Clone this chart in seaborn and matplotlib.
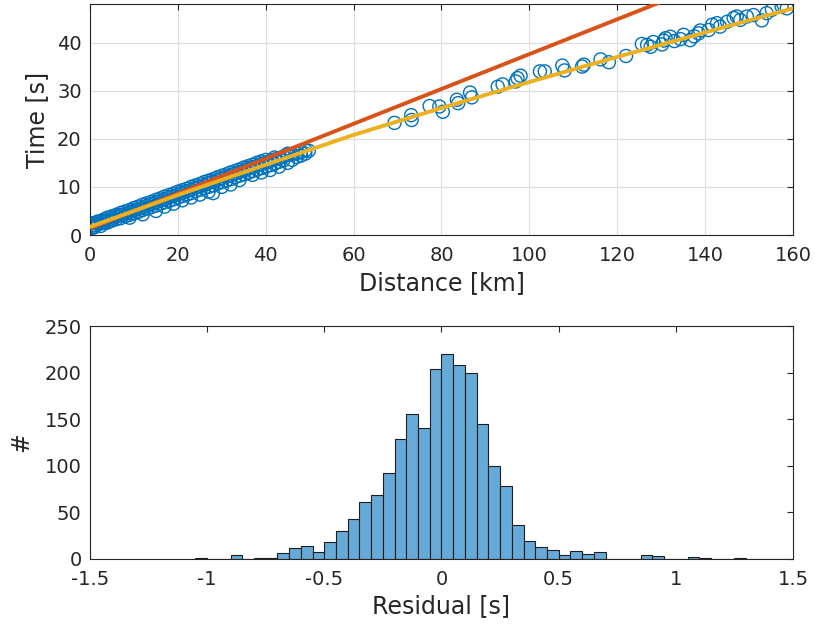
import numpy as np
import pandas as pd
import matplotlib
matplotlib.use('Agg')
import matplotlib.pyplot as plt
import seaborn as sns

# ---- travel time picks (km, s) ----
near_dist = [0.3, 0.3, 0.3, 1, 1, 1, 1.8, 1.8, 2.5, 2.5, 2.5, 3.3, 3.3, 3.3,
             4, 4, 4, 5, 5, 5, 6, 6, 6, 7, 7, 7, 8, 8, 8, 9, 9, 9, 9,
             10, 10, 10, 11, 11, 11, 12, 12, 12, 12, 13, 13, 13, 14, 14, 14,
             15, 15, 15, 15, 16, 16, 16, 17, 17, 17, 17, 18, 18, 18,
             19, 19, 19, 19, 20, 20, 20, 21, 21, 21, 21, 22, 22, 22,
             23, 23, 23, 23, 24, 24, 24, 25, 25, 25, 25, 26, 26, 26,
             27, 27, 27, 27, 28, 28, 28, 28, 29, 29, 29, 30, 30, 30, 30,
             31, 31, 31, 32, 32, 32, 32, 33, 33, 33, 34, 34, 34, 34,
             35, 35, 35, 36, 36, 36, 37, 37, 37, 37, 38, 38, 38,
             39, 39, 39, 39, 40, 40, 40, 41, 41, 41, 42, 42, 42, 43, 43, 43,
             44, 44, 45, 45, 45, 46, 46, 47, 47, 48, 48, 49, 49, 49.8]
near_time = [1.9, 1.4, 2.4, 2.0, 2.5, 1.6, 2.3, 2.8, 2.4, 2.9, 1.9, 2.9, 2.5, 3.3,
             3.1, 3.6, 2.6, 3.4, 3.0, 3.9, 3.8, 3.3, 4.2, 4.1, 4.6, 3.5, 4.4, 4.9, 3.9,
             4.7, 5.2, 4.2, 3.6, 5.1, 5.6, 4.5, 5.4, 5.9, 4.8, 5.7, 6.3, 5.2, 4.3,
             6.1, 6.6, 5.5, 6.4, 6.9, 5.8, 6.8, 7.3, 6.1, 5.0, 7.1, 7.6, 6.5,
             7.4, 8.0, 6.8, 5.9, 7.8, 8.3, 7.1, 8.1, 8.6, 7.4, 6.5, 8.4, 9.0, 7.8,
             8.8, 9.3, 8.1, 7.2, 9.1, 9.6, 8.4, 9.4, 10.0, 8.7, 7.8, 9.8, 10.3, 9.1,
             10.1, 10.6, 9.4, 8.4, 10.4, 11.0, 9.7, 10.8, 11.3, 10.0, 9.0,
             11.1, 11.6, 10.3, 8.7, 11.4, 12.0, 10.7, 11.8, 12.3, 11.0, 10.0,
             12.1, 12.6, 11.3, 12.4, 13.0, 11.6, 10.5, 12.8, 13.3, 12.0,
             13.1, 13.6, 12.3, 11.4, 13.4, 14.0, 12.6, 13.8, 14.3, 12.9,
             14.1, 14.6, 13.3, 12.5, 14.4, 15.0, 13.6, 14.8, 15.3, 13.9, 13.0,
             15.0, 15.6, 14.2, 15.4, 14.5, 13.5, 15.7, 16.1, 14.8, 15.9, 14.2, 15.2,
             16.3, 15.5, 16.6, 15.0, 16.9, 16.8, 15.6, 17.0, 16.2, 17.2, 16.5,
             17.6, 16.9, 17.5]

far_dist = [69.3, 73.1, 73.2, 77.3, 79.5, 80.3, 83.5, 83.8, 86.5, 86.9,
            92.8, 93.9, 96.9, 97.3, 98.0, 102.4, 103.5, 107.5, 108.0, 112.0,
            112.4, 116.2, 118.1, 122.0, 125.6, 126.8, 127.6, 128.2, 130.2, 130.6,
            131.0, 132.1, 133.0, 134.4, 135.1, 136.6, 137.5, 138.5, 138.9, 140.8,
            141.6, 142.7, 143.4, 145.0, 146.5, 147.2, 148.0, 149.5, 151.0, 152.9,
            154.0, 155.2, 157.4, 158.6]
far_time = [23.3, 24.9, 23.9, 26.8, 26.7, 25.6, 28.1, 27.4, 29.6, 28.6,
            30.8, 31.3, 31.9, 32.6, 33.1, 34.0, 34.0, 35.2, 34.2, 35.0,
            35.4, 36.5, 35.9, 37.2, 39.7, 39.5, 39.1, 40.1, 39.6, 40.4,
            40.9, 41.2, 40.3, 40.7, 41.6, 40.5, 41.3, 41.9, 42.5, 42.6,
            43.7, 44.0, 43.3, 44.3, 45.1, 45.4, 44.7, 45.4, 45.7, 44.6,
            46.1, 46.8, 47.5, 47.1]

# straight-line fit (near picks) and fit through all picks
red_dist = [0.3, 160]
red_time = [1.5, 59.3]
yel_dist = [0.3, 20, 40, 60, 80, 100, 120, 140, 160]
yel_time = [1.8, 8.3, 14.6, 20.8, 26.4, 31.8, 37.0, 42.1, 47.1]

# ---- residual histogram ----
bin_edges = [round(-1.05 + 0.05 * i, 3) for i in range(52)]
counts = [1, 0, 0, 4, 0, 1, 1, 6, 11, 13, 7, 18, 30, 43, 61, 68, 92, 129, 155, 140,
          204, 220, 208, 199, 145, 99, 78, 36, 19, 12, 9, 4, 8, 5, 7, 0, 0, 0, 4, 3,
          0, 0, 2, 1, 0, 0, 1, 0, 0, 0, 0]

picks = pd.DataFrame({'dist': near_dist + far_dist, 'time': near_time + far_time})
centers = [(a + b) / 2 for a, b in zip(bin_edges[:-1], bin_edges[1:])]
hist_df = pd.DataFrame({'res': centers, 'n': counts})

sns.set_theme(style='white')
plt.rcParams['font.family'] = ['DejaVu Sans']
plt.rcParams['axes.unicode_minus'] = False
dark = '#262626'

fig = plt.figure(figsize=(8.16, 6.26), dpi=100)
ax1 = fig.add_axes([0.1103, 0.6246, 0.8615, 0.369])
ax2 = fig.add_axes([0.1103, 0.1078, 0.8615, 0.3714])

sns.scatterplot(data=picks, x='dist', y='time', ax=ax1, marker='o', s=88,
                facecolor='none', edgecolor='#0072BD', linewidth=1.0, zorder=2)
sns.lineplot(x=red_dist, y=red_time, ax=ax1, color='#D95319', linewidth=2.8, zorder=3)
sns.lineplot(x=yel_dist, y=yel_time, ax=ax1, color='#EDB120', linewidth=2.8, zorder=4)
ax1.set_xlim(0, 160)
ax1.set_ylim(0, 48)
ax1.set_xticks(range(0, 161, 20))
ax1.set_yticks(range(0, 41, 10))
ax1.grid(True, color='#dedede', linewidth=0.8)
ax1.set_axisbelow(True)
ax1.set_xlabel('Distance [km]', fontsize=17, color=dark, labelpad=4)
ax1.set_ylabel('Time [s]', fontsize=17, color=dark, labelpad=6)

sns.histplot(data=hist_df, x='res', weights='n', bins=bin_edges, ax=ax2,
             color='#66AAD7', alpha=1, edgecolor='#1e1e1e', linewidth=0.8)
ax2.set_xlim(-1.5, 1.5)
ax2.set_ylim(0, 250)
ax2.set_xticks([-1.5, -1, -0.5, 0, 0.5, 1, 1.5])
ax2.set_xticklabels(['-1.5', '-1', '-0.5', '0', '0.5', '1', '1.5'])
ax2.set_yticks(range(0, 251, 50))
ax2.grid(False)
ax2.set_xlabel('Residual [s]', fontsize=17, color=dark, labelpad=4)
ax2.set_ylabel('#', fontsize=17, color=dark, labelpad=8)

for ax in (ax1, ax2):
    for sp in ax.spines.values():
        sp.set_color(dark)
        sp.set_linewidth(0.8)
    ax.tick_params(direction='in', length=4, width=0.8, colors=dark,
                   labelsize=14, top=True, right=True, labelcolor=dark)
    ax.tick_params(axis='x', pad=8)
    ax.tick_params(axis='y', pad=6)

fig.savefig('out.png', dpi=100)
